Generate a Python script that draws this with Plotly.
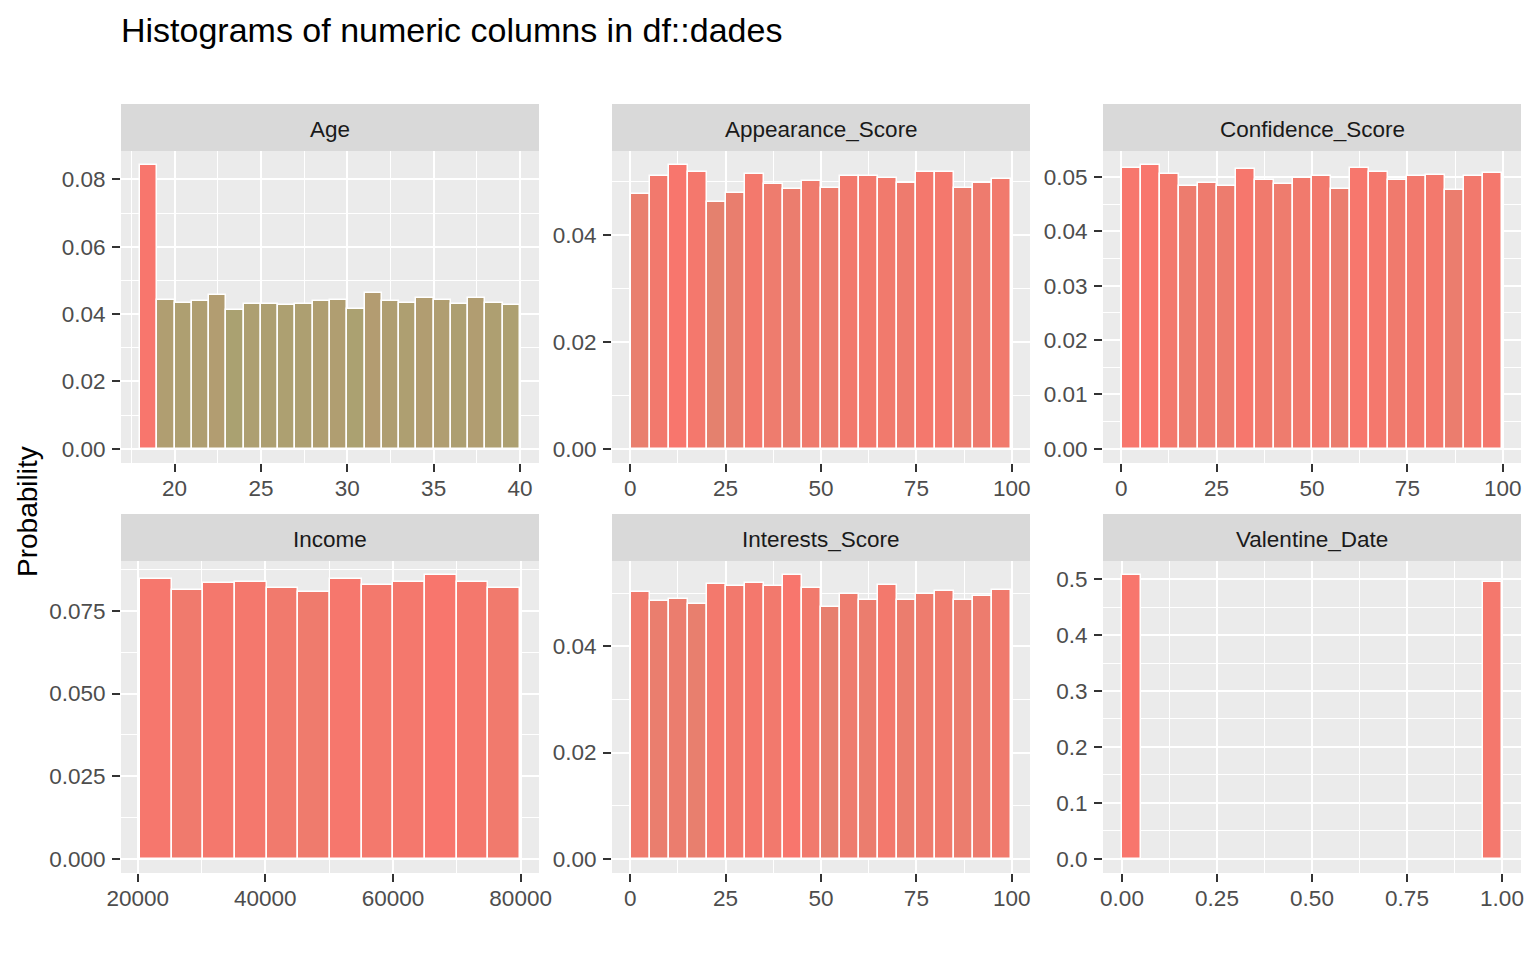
import numpy as np
import plotly.graph_objects as go

# ---------------- data (probability per bin) ----------------
panels = ["Age", "Appearance_Score", "Confidence_Score",
          "Income", "Interests_Score", "Valentine_Date"]

age_prob = [0.0842, 0.0443, 0.0432, 0.0438, 0.0456, 0.0411, 0.0429, 0.0429,
            0.0426, 0.0429, 0.0438, 0.0441, 0.0414, 0.0462, 0.0438, 0.0432,
            0.0447, 0.0441, 0.0429, 0.0447, 0.0432, 0.0426]
appearance_prob = [0.0477, 0.0510, 0.0531, 0.0518, 0.0462, 0.0479, 0.0514, 0.0496,
                   0.0486, 0.0501, 0.0488, 0.0510, 0.0510, 0.0507, 0.0497, 0.0518,
                   0.0518, 0.0488, 0.0497, 0.0505]
confidence_prob = [0.0517, 0.0522, 0.0506, 0.0483, 0.0489, 0.0483, 0.0515, 0.0495,
                   0.0487, 0.0498, 0.0502, 0.0478, 0.0517, 0.0509, 0.0495, 0.0502,
                   0.0504, 0.0476, 0.0502, 0.0507]
income_prob = [0.0846, 0.0813, 0.0834, 0.0837, 0.0819, 0.0807, 0.0846, 0.0828,
               0.0837, 0.0858, 0.0837, 0.0819]
interests_prob = [0.0503, 0.0485, 0.0490, 0.0479, 0.0517, 0.0513, 0.0519, 0.0513,
                  0.0534, 0.0509, 0.0475, 0.0498, 0.0488, 0.0515, 0.0488, 0.0498,
                  0.0505, 0.0487, 0.0494, 0.0507]
valentine_prob = [0.507, 0.494]

# bin layout per panel: (first edge, bin width, bin indices present)
age_bins = (18.0, 1.0, list(range(22)))
appearance_bins = (0.2, 4.98, list(range(20)))
confidence_bins = (0.2, 4.98, list(range(20)))
income_bins = (20360.0, 4961.7, list(range(12)))
interests_bins = (0.2, 4.98, list(range(20)))
valentine_bins = (0.0, 0.05, [0, 19])
valentine_extent = (0.0, 1.0)

# axis tick settings per panel
x_ticks = {
    "Age": ([20, 25, 30, 35, 40], ["20", "25", "30", "35", "40"]),
    "Appearance_Score": ([0, 25, 50, 75, 100], ["0", "25", "50", "75", "100"]),
    "Confidence_Score": ([0, 25, 50, 75, 100], ["0", "25", "50", "75", "100"]),
    "Income": ([20000, 40000, 60000, 80000], ["20000", "40000", "60000", "80000"]),
    "Interests_Score": ([0, 25, 50, 75, 100], ["0", "25", "50", "75", "100"]),
    "Valentine_Date": ([0, 0.25, 0.5, 0.75, 1.0], ["0.00", "0.25", "0.50", "0.75", "1.00"]),
}
y_ticks = {
    "Age": (0.02, ".2f"),
    "Appearance_Score": (0.02, ".2f"),
    "Confidence_Score": (0.01, ".2f"),
    "Income": (0.025, ".3f"),
    "Interests_Score": (0.02, ".2f"),
    "Valentine_Date": (0.1, ".1f"),
}

series = {
    "Age": (age_prob, age_bins, None),
    "Appearance_Score": (appearance_prob, appearance_bins, None),
    "Confidence_Score": (confidence_prob, confidence_bins, None),
    "Income": (income_prob, income_bins, None),
    "Interests_Score": (interests_prob, interests_bins, None),
    "Valentine_Date": (valentine_prob, valentine_bins, valentine_extent),
}

# ---------------- layout geometry (pixels, in page/screen coordinates) ----------------
PAGE_W, PAGE_H = 1536, 960
OFF = 8  # default body margin of the html page
W, H = PAGE_W - 2 * OFF, PAGE_H - 2 * OFF  # figure size so nothing overflows

col_px = [(121, 539), (612, 1030), (1103, 1521)]
row_px = [(151, 463), (561, 873)]  # plot area top/bottom
strip_h = 47


def px(x):
    return (x - OFF) / W


def py(y):
    return 1 - (y - OFF) / H


FONT = "Liberation Sans, Arial, sans-serif"
TICK_SIZE = 22.5
STRIP_SIZE = 22.5
TITLE_SIZE = 34
AXTITLE_SIZE = 28

LOW = np.array([96, 202, 117])
HIGH = np.array([248, 118, 109])


def fill_color(r):
    c = LOW + r * (HIGH - LOW)
    c = np.clip(np.round(c), 0, 255).astype(int)
    return "rgb(%d,%d,%d)" % tuple(c)


fig = go.Figure()
shapes = []
annotations = []

for i, name in enumerate(panels):
    row, col = divmod(i, 3)
    k = i + 1
    xa = "xaxis" if k == 1 else "xaxis%d" % k
    ya = "yaxis" if k == 1 else "yaxis%d" % k
    xref = "x" if k == 1 else "x%d" % k
    yref = "y" if k == 1 else "y%d" % k

    vals, (start, bw, idx), extent = series[name]
    centers = [start + (j + 0.5) * bw for j in idx]
    vmax = max(vals)
    colors = [fill_color(v / vmax) for v in vals]

    fig.add_trace(go.Bar(
        x=centers, y=vals, width=[bw] * len(vals),
        marker=dict(color=colors, line=dict(color="white", width=1.5)),
        xaxis=xref, yaxis=yref, showlegend=False,
        hovertemplate="%{x}: %{y:.4f}<extra></extra>",
    ))

    if extent is None:
        lo, hi = start, start + bw * (max(idx) + 1)
    else:
        lo, hi = extent
    pad = 0.05 * (hi - lo)
    xrange = [lo - pad, hi + pad]
    yrange = [-0.05 * vmax, 1.05 * vmax]

    x0, x1 = col_px[col]
    t, b = row_px[row]
    xdom = [px(x0), px(x1)]
    ydom = [py(b), py(t)]

    tv, tt = x_ticks[name]
    xmaj = tv[1] - tv[0]
    ydt, yfmt = y_ticks[name]

    fig.update_layout({
        xa: dict(domain=xdom, anchor=yref, range=xrange, automargin=False,
                 tickmode="array", tickvals=tv, ticktext=tt,
                 showgrid=True, gridcolor="white", gridwidth=2,
                 minor=dict(showgrid=True, gridcolor="white", gridwidth=1,
                            tick0=tv[0] - xmaj / 2, dtick=xmaj / 2),
                 ticks="outside", ticklen=8, tickwidth=2, tickcolor="#333333",
                 ticklabelstandoff=-3,
                 tickfont=dict(family=FONT, size=TICK_SIZE, color="#4D4D4D"),
                 showline=False, zeroline=False, fixedrange=True),
        ya: dict(domain=ydom, anchor=xref, range=yrange, automargin=False,
                 tick0=0, dtick=ydt, tickformat=yfmt,
                 showgrid=True, gridcolor="white", gridwidth=2,
                 minor=dict(showgrid=True, gridcolor="white", gridwidth=1,
                            tick0=ydt / 2, dtick=ydt / 2),
                 ticks="outside", ticklen=8, tickwidth=2, tickcolor="#333333",
                 ticklabelstandoff=2,
                 tickfont=dict(family=FONT, size=TICK_SIZE, color="#4D4D4D"),
                 showline=False, zeroline=False, fixedrange=True),
    })

    # facet strip
    shapes.append(dict(type="rect", xref="paper", yref="paper",
                       x0=px(x0), x1=px(x1), y0=py(t), y1=py(t - strip_h),
                       fillcolor="#D9D9D9", line=dict(width=0), layer="below"))
    annotations.append(dict(text=name, xref="paper", yref="paper",
                            x=px((x0 + x1) / 2), y=py(t - strip_h / 2 + 2),
                            xanchor="center", yanchor="middle", showarrow=False,
                            font=dict(family=FONT, size=STRIP_SIZE, color="#1A1A1A")))

annotations.append(dict(text="Histograms of numeric columns in df::dades",
                        xref="paper", yref="paper", x=px(119), y=py(30),
                        xanchor="left", yanchor="middle", showarrow=False,
                        font=dict(family=FONT, size=TITLE_SIZE, color="#000000")))
annotations.append(dict(text="Probability", xref="paper", yref="paper",
                        x=px(27), y=py(512), textangle=-90,
                        xanchor="center", yanchor="middle", showarrow=False,
                        font=dict(family=FONT, size=AXTITLE_SIZE, color="#000000")))

fig.update_layout(
    width=W, height=H,
    margin=dict(l=0, r=0, t=0, b=0, pad=0, autoexpand=False),
    paper_bgcolor="white", plot_bgcolor="#EBEBEB",
    shapes=shapes, annotations=annotations,
    bargap=0, showlegend=False,
)

fig.write_html("out.html")
